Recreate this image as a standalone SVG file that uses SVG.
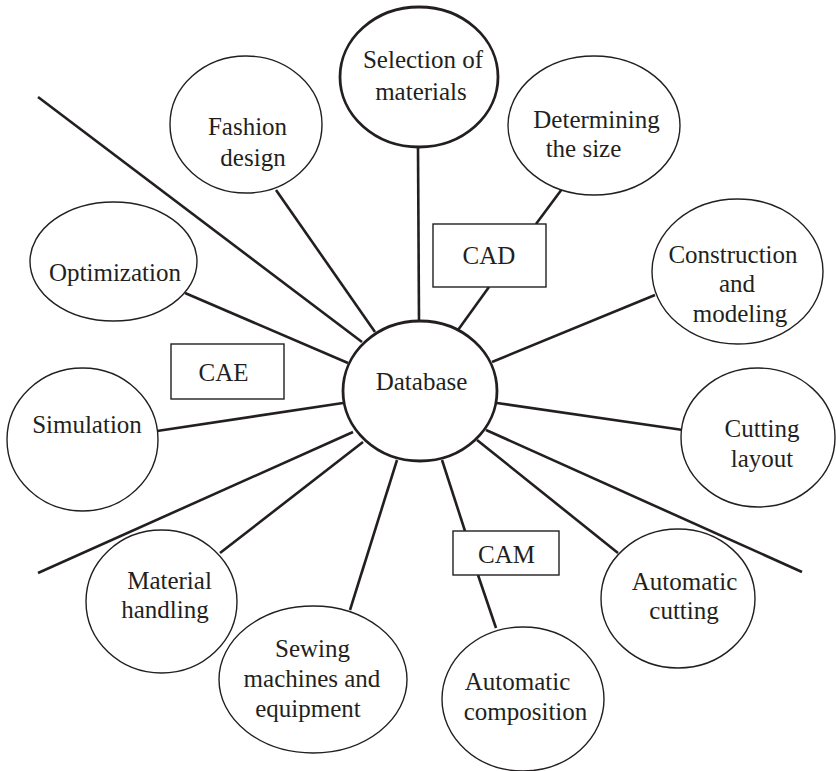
<svg xmlns="http://www.w3.org/2000/svg" width="836" height="771" viewBox="0 0 836 771">
<style>
.n{fill:#fff;stroke:#231f20;stroke-width:1.4}
.k{fill:#fff;stroke:#231f20;stroke-width:2.8}
.b{fill:#fff;stroke:#231f20;stroke-width:1.4}
.c line{stroke:#231f20;stroke-width:2.6;stroke-linecap:butt}
text{font-family:"Liberation Serif","Times New Roman",serif;font-size:25px;fill:#231f20;text-anchor:middle}
</style>
<rect width="836" height="771" fill="#fff"/>
<g id="connectors" class="c">
<line x1="38" y1="97" x2="362" y2="342"/>
<line x1="276" y1="190" x2="375" y2="332"/>
<line x1="418" y1="147" x2="419" y2="321"/>
<line x1="562" y1="189" x2="536" y2="224"/>
<line x1="489" y1="287" x2="458" y2="330"/>
<line x1="655" y1="295" x2="492" y2="362"/>
<line x1="683" y1="430" x2="497" y2="403"/>
<line x1="486" y1="430" x2="802" y2="572"/>
<line x1="477" y1="440" x2="618" y2="553"/>
<line x1="442" y1="460" x2="465" y2="531"/>
<line x1="478" y1="575" x2="496" y2="628"/>
<line x1="350" y1="610" x2="397" y2="460"/>
<line x1="220" y1="553" x2="363" y2="442"/>
<line x1="38" y1="573" x2="353" y2="432"/>
<line x1="157" y1="431" x2="343" y2="403"/>
<line x1="185" y1="293" x2="348" y2="363"/>
</g>
<g id="selection">
<ellipse class="k" cx="419" cy="77" rx="79" ry="70"/>
<text x="423" y="68">Selection of</text>
<text x="421" y="100">materials</text>
</g>
<g id="fashion">
<ellipse class="n" cx="246" cy="124.5" rx="76" ry="68.5"/>
<text x="247.5" y="135">Fashion</text>
<text x="253" y="166">design</text>
</g>
<g id="determining">
<ellipse class="n" cx="594" cy="125.5" rx="86" ry="69.5"/>
<text x="596.5" y="128">Determining</text>
<text x="583.5" y="157">the size</text>
</g>
<g id="cad">
<rect class="b" x="433" y="224" width="113" height="63"/>
<text x="489" y="264">CAD</text>
</g>
<g id="construction">
<ellipse class="n" cx="737.5" cy="271.5" rx="85.5" ry="72.5"/>
<text x="733" y="263">Construction</text>
<text x="737" y="292">and</text>
<text x="740" y="322">modeling</text>
</g>
<g id="optimization">
<ellipse class="n" cx="113.5" cy="261.5" rx="83.5" ry="59.5"/>
<text x="115" y="281">Optimization</text>
</g>
<g id="cae">
<rect class="b" x="171" y="344" width="113" height="55"/>
<text x="223.5" y="381">CAE</text>
</g>
<g id="database">
<ellipse class="k" cx="420" cy="391" rx="77" ry="70"/>
<text x="421.5" y="390">Database</text>
</g>
<g id="simulation">
<ellipse class="n" cx="82.5" cy="439.5" rx="75.5" ry="71.5"/>
<text x="87" y="433">Simulation</text>
</g>
<g id="cutting-layout">
<ellipse class="n" cx="758" cy="437.5" rx="77" ry="69.5"/>
<text x="762" y="437">Cutting</text>
<text x="762" y="467">layout</text>
</g>
<g id="cam">
<rect class="b" x="453" y="531" width="106" height="44"/>
<text x="506.5" y="563">CAM</text>
</g>
<g id="automatic-cutting">
<ellipse class="n" cx="678" cy="598.5" rx="77" ry="69.5"/>
<text x="684.5" y="590">Automatic</text>
<text x="684" y="619">cutting</text>
</g>
<g id="material-handling">
<ellipse class="n" cx="161.5" cy="601.5" rx="75.5" ry="71.5"/>
<text x="169.5" y="589">Material</text>
<text x="165" y="618">handling</text>
</g>
<g id="sewing">
<ellipse class="n" cx="313" cy="679.5" rx="94" ry="73.5"/>
<text x="312.5" y="657">Sewing</text>
<text x="312" y="687">machines and</text>
<text x="308" y="717">equipment</text>
</g>
<g id="automatic-composition">
<ellipse class="n" cx="523" cy="699" rx="81" ry="72"/>
<text x="517.5" y="690">Automatic</text>
<text x="525.5" y="720">composition</text>
</g>
</svg>
